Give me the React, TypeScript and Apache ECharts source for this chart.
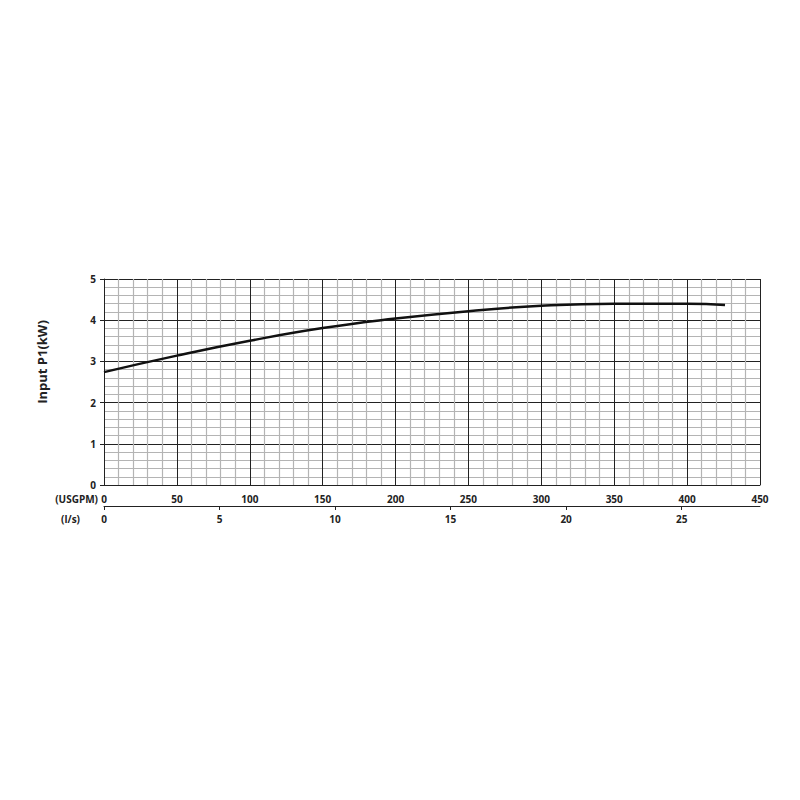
import React, { useEffect, useRef } from "react";
import * as echarts from "echarts";

const flowUsgpm = [0, 50, 100, 150, 200, 250, 300, 350, 400, 426];
const powerKw = [2.74, 3.14, 3.5, 3.81, 4.04, 4.22, 4.35, 4.4, 4.4, 4.37];
const usgpmMax = 450;
const lsPerUsgpm = 0.0630902;
const yTitle = "Input P1(kW)";
const xName1 = "(USGPM)";
const xName2 = "(l/s)";

export default function App() {
  const ref = useRef<HTMLDivElement>(null);
  useEffect(() => {
    const chart = echarts.init(ref.current!, null, { renderer: "svg" });
    const font = "'Open Sans', 'Liberation Sans', sans-serif";
    const labelStyle = { color: "#222", fontWeight: "bold" as const, fontSize: 10, fontFamily: font };
    chart.setOption({
      animation: false,
      backgroundColor: "#fff",
      grid: { left: 104, right: 40, top: 279, bottom: 315 },
      xAxis: [
        {
          type: "value",
          min: 0,
          max: usgpmMax,
          interval: 50,
          position: "bottom",
          axisLine: { show: true, lineStyle: { color: "#222", width: 1 } },
          axisTick: { show: false },
          axisLabel: { ...labelStyle, margin: 9 },
          splitLine: { show: true, lineStyle: { color: "#222", width: 1 } },
          minorTick: { show: false, splitNumber: 5 },
          minorSplitLine: { show: true, lineStyle: { color: "#b4b4b4", width: 1.2 } },
        },
        {
          type: "value",
          min: 0,
          max: usgpmMax * lsPerUsgpm,
          interval: 5,
          position: "bottom",
          offset: 21,
          axisLine: { show: true, lineStyle: { color: "#222", width: 1 } },
          axisTick: { show: true, length: 4, lineStyle: { color: "#222" } },
          axisLabel: { ...labelStyle, margin: 8, showMaxLabel: false },
          splitLine: { show: false },
        },
      ],
      yAxis: {
        type: "value",
        min: 0,
        max: 5,
        interval: 1,
        axisLine: { show: true, lineStyle: { color: "#222", width: 1 } },
        axisTick: { show: true, length: 4, lineStyle: { color: "#222" } },
        axisLabel: { ...labelStyle, margin: 8 },
        splitLine: { show: true, lineStyle: { color: "#222", width: 1 } },
        minorTick: { show: false, splitNumber: 5 },
        minorSplitLine: { show: true, lineStyle: { color: "#b4b4b4", width: 1.2 } },
      },
      graphic: [
        {
          type: "text",
          x: 42,
          y: 362,
          rotation: Math.PI / 2,
          style: {
            text: yTitle,
            fill: "#222",
            font: `bold 13px ${font}`,
            align: "center",
            verticalAlign: "middle",
          },
        },
        {
          type: "text",
          x: 98,
          y: 499,
          style: { text: xName1, fill: "#222", font: `bold 10px ${font}`, align: "right", verticalAlign: "middle" },
        },
        {
          type: "text",
          x: 80,
          y: 519,
          style: { text: xName2, fill: "#222", font: `bold 10px ${font}`, align: "right", verticalAlign: "middle" },
        },
      ],
      series: [
        {
          type: "line",
          xAxisIndex: 0,
          yAxisIndex: 0,
          smooth: true,
          showSymbol: false,
          lineStyle: { color: "#111", width: 2.5 },
          data: flowUsgpm.map((x, i) => [x, powerKw[i]]),
        },
      ],
    });
    return () => chart.dispose();
  }, []);
  return (
    <div
      ref={ref}
      style={{ position: "fixed", left: 0, top: 0, width: 800, height: 800, background: "#fff" }}
    />
  );
}
